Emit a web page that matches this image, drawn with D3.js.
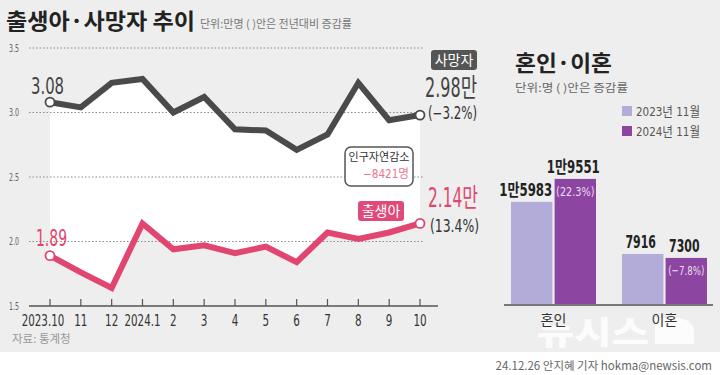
<!DOCTYPE html>
<html>
<head>
<meta charset="utf-8">
<script src="https://cdn.jsdelivr.net/npm/d3@7"></script>
<style>
  body { margin: 0; background: #fff; }
  text { font-family: 'Noto Sans CJK KR', sans-serif; }
  .num { font-family: 'Liberation Sans Narrow', 'DejaVu Sans Condensed', 'Noto Sans CJK KR', sans-serif; }
</style>
</head>
<body>
<div id="chart"></div>
<script>
// line chart data (unit: 10,000 people)
const months = ["2023.10", "11", "12", "2024.1", "2", "3", "4", "5", "6", "7", "8", "9", "10"];
const deaths = [3.08, 3.04, 3.23, 3.26, 3.00, 3.12, 2.87, 2.86, 2.71, 2.83, 3.23, 2.94, 2.98];
const births = [1.89, 1.76, 1.64, 2.14, 1.94, 1.97, 1.91, 1.96, 1.84, 2.07, 2.02, 2.07, 2.14];
const yTicks = [1.5, 2.0, 2.5, 3.0, 3.5];

// bar chart data (unit: people)
const categories = ["혼인", "이혼"];
const years = ["2023년 11월", "2024년 11월"];
const values2023 = [15983, 7916];
const values2024 = [19551, 7300];
const changes = ["(22.3%)", "(−7.8%)"];

const width = 720;
const height = 375;

// squeeze number labels to a narrow look (no condensed font installed)
function narrow(sel, digitW, dotW, otherW) {
  sel.each(function () {
    const s = d3.select(this).text();
    let w = 0;
    for (const ch of s) {
      if (/[0-9]/.test(ch)) w += digitW;
      else if (ch === "." || ch === ",") w += dotW;
      else if (/[가-힣]/.test(ch)) w += otherW;
      else w += dotW * 1.6;
    }
    d3.select(this).attr("textLength", w).attr("lengthAdjust", "spacingAndGlyphs");
  });
}

const svg = d3.select("#chart")
  .append("svg")
  .attr("width", width)
  .attr("height", height);

// background
svg.append("rect").attr("width", width).attr("height", 352).attr("fill", "#eeeeee");
svg.append("rect").attr("y", 352).attr("width", width).attr("height", 23).attr("fill", "#ffffff");

// titles
svg.append("text").attr("x", 6).attr("y", 29)
  .attr("font-size", 22).attr("font-weight", 700).attr("fill", "#222")
  .attr("textLength", 189).attr("lengthAdjust", "spacingAndGlyphs")
  .text("출생아·사망자 추이");
svg.append("text").attr("x", 200).attr("y", 28)
  .attr("font-size", 11).attr("fill", "#777")
  .text("단위:만명 ( )안은 전년대비 증감률");

/////////////////
// LINE CHART  //
/////////////////
const x = d3.scalePoint().domain(months).range([50, 420]);
const y = d3.scaleLinear().domain([1.5, 3.5]).range([306, 48]);

// white gap between deaths and births
const gap = d3.area()
  .x((d, i) => x(months[i]))
  .y0((d, i) => y(births[i]))
  .y1(d => y(d));
svg.append("path").datum(deaths)
  .attr("d", gap)
  .attr("fill", "#ffffff");

// grid
const grid = svg.append("g");
grid.selectAll("line")
  .data(yTicks.filter(t => t > 1.5))
  .join("line")
  .attr("x1", 29).attr("x2", 423)
  .attr("y1", d => y(d)).attr("y2", d => y(d))
  .attr("stroke", "#8a8a8a").attr("stroke-width", 1)
  .attr("stroke-dasharray", "1.5,2");
grid.selectAll("text")
  .data(yTicks)
  .join("text")
  .attr("class", "num")
  .attr("x", 19).attr("y", d => y(d))
  .attr("dy", "0.35em")
  .attr("text-anchor", "end")
  .attr("font-size", 10).attr("fill", "#666")
  .text(d => d.toFixed(1))
  .call(narrow, 4, 2, 0);

// x axis
const xAxis = svg.append("g").attr("transform", "translate(0,306)");
xAxis.append("line").attr("x1", 29).attr("x2", 438)
  .attr("stroke", "#555").attr("stroke-width", 1.5);
xAxis.selectAll(".tick")
  .data(months)
  .join("line")
  .attr("class", "tick")
  .attr("x1", d => x(d)).attr("x2", d => x(d))
  .attr("y1", 0).attr("y2", -7)
  .attr("stroke", "#555").attr("stroke-width", 1.2);
xAxis.selectAll(".lbl")
  .data(months)
  .join("text")
  .attr("class", "num lbl")
  .attr("x", (d, i) => x(d) - (i === 0 ? 7 : 0)).attr("y", 20)
  .attr("text-anchor", "middle")
  .attr("font-size", 15).attr("fill", "#333")
  .text(d => d)
  .call(narrow, 6.6, 3, 0);

const line = d3.line().x((d, i) => x(months[i])).y(d => y(d));

svg.append("path").datum(deaths)
  .attr("d", line)
  .attr("fill", "none").attr("stroke", "#4a4a4a")
  .attr("stroke-width", 6).attr("stroke-linejoin", "miter");
svg.append("path").datum(births)
  .attr("d", line)
  .attr("fill", "none").attr("stroke", "#e0466f")
  .attr("stroke-width", 6).attr("stroke-linejoin", "miter");

// end markers
const last = months.length - 1;
[[deaths, "#4a4a4a"], [births, "#e0466f"]].forEach(([s, c]) => {
  [0, last].forEach(i => {
    svg.append("circle")
      .attr("cx", x(months[i])).attr("cy", y(s[i])).attr("r", 4.5)
      .attr("fill", "#fff").attr("stroke", c).attr("stroke-width", 1.8);
  });
});

// start labels
svg.append("text").attr("class", "num")
  .attr("x", 31).attr("y", y(deaths[0]) - 8)
  .attr("font-size", 23).attr("fill", "#444")
  .attr("textLength", 33).attr("lengthAdjust", "spacingAndGlyphs")
  .text(deaths[0].toFixed(2));
svg.append("text").attr("class", "num")
  .attr("x", 36).attr("y", y(births[0]) - 10)
  .attr("font-size", 23).attr("fill", "#e0466f")
  .attr("textLength", 31).attr("lengthAdjust", "spacingAndGlyphs")
  .text(births[0].toFixed(2));

// end labels
svg.append("rect").attr("x", 431).attr("y", 50).attr("width", 46).attr("height", 20)
  .attr("rx", 3).attr("fill", "#555");
svg.append("text").attr("x", 454).attr("y", 65)
  .attr("text-anchor", "middle").attr("font-size", 14).attr("fill", "#fff")
  .text("사망자");
svg.append("text").attr("class", "num")
  .attr("x", 425).attr("y", 97)
  .attr("font-size", 26).attr("fill", "#444")
  .attr("textLength", 52).attr("lengthAdjust", "spacingAndGlyphs")
  .text(deaths[last].toFixed(2) + "만");
svg.append("text").attr("class", "num")
  .attr("x", 428).attr("y", 119)
  .attr("font-size", 17).attr("fill", "#333")
  .attr("textLength", 49).attr("lengthAdjust", "spacingAndGlyphs")
  .text("(−3.2%)");

svg.append("rect").attr("x", 358).attr("y", 201).attr("width", 46).attr("height", 20)
  .attr("rx", 3).attr("fill", "#e04a78");
svg.append("text").attr("x", 381).attr("y", 216)
  .attr("text-anchor", "middle").attr("font-size", 14).attr("fill", "#fff")
  .text("출생아");
svg.append("text").attr("class", "num")
  .attr("x", 428).attr("y", 207)
  .attr("font-size", 26).attr("fill", "#e0466f")
  .attr("textLength", 50).attr("lengthAdjust", "spacingAndGlyphs")
  .text(births[last].toFixed(2) + "만");
svg.append("text").attr("class", "num")
  .attr("x", 430).attr("y", 232)
  .attr("font-size", 17).attr("fill", "#333")
  .attr("textLength", 49).attr("lengthAdjust", "spacingAndGlyphs")
  .text("(13.4%)");

// natural decrease box
svg.append("rect").attr("x", 345).attr("y", 147).attr("width", 68).attr("height", 39)
  .attr("rx", 6).attr("fill", "#fff").attr("stroke", "#555").attr("stroke-width", 1.5);
svg.append("text").attr("x", 379).attr("y", 161)
  .attr("text-anchor", "middle").attr("font-size", 11).attr("fill", "#333")
  .attr("textLength", 61).attr("lengthAdjust", "spacingAndGlyphs")
  .text("인구자연감소");
svg.append("text").attr("class", "num").attr("x", 409).attr("y", 178)
  .attr("text-anchor", "end").attr("font-size", 12).attr("fill", "#ec7590")
  .attr("textLength", 46).attr("lengthAdjust", "spacingAndGlyphs")
  .text("−8421명");

svg.append("text").attr("x", 12).attr("y", 343)
  .attr("font-size", 11.5).attr("fill", "#999")
  .text("자료: 통계청");

/////////////////
// BAR CHART   //
/////////////////
svg.append("text").attr("x", 515).attr("y", 71)
  .attr("font-size", 22).attr("font-weight", 700).attr("fill", "#222")
  .attr("textLength", 97).attr("lengthAdjust", "spacingAndGlyphs")
  .text("혼인·이혼");
svg.append("text").attr("x", 515).attr("y", 92)
  .attr("font-size", 11).attr("fill", "#666")
  .attr("textLength", 113).attr("lengthAdjust", "spacingAndGlyphs")
  .text("단위:명 ( )안은  증감률");

const colors = ["#b3acd8", "#8c45a0"];

// legend
const legend = svg.append("g").selectAll("g")
  .data(years)
  .join("g")
  .attr("transform", (d, i) => `translate(622,${106 + i * 20})`);
legend.append("rect").attr("width", 10).attr("height", 10).attr("fill", (d, i) => colors[i]);
legend.append("text").attr("class", "num")
  .attr("x", 14).attr("y", 9.5)
  .attr("font-size", 13).attr("fill", "#555")
  .attr("textLength", 64).attr("lengthAdjust", "spacingAndGlyphs")
  .text(d => d);

const xb = d3.scaleBand().domain(categories).range([511, 707]).paddingInner(0.234);
const xs = d3.scaleBand().domain(years).range([0, xb.bandwidth()]).paddingInner(0.05);
const yb = d3.scaleLinear().domain([0, 20000]).range([305, 176]);

const rows = categories.map((c, i) => ({ cat: c, vals: [values2023[i], values2024[i]], change: changes[i] }));

const fmt = v => v >= 10000 ? `${Math.floor(v / 10000)}만${v % 10000}` : `${v}`;

const groups = svg.append("g").selectAll("g")
  .data(rows)
  .join("g")
  .attr("transform", d => `translate(${xb(d.cat)},0)`);

groups.selectAll("rect")
  .data(d => d.vals.map((v, j) => ({ v, yr: years[j], j })))
  .join("rect")
  .attr("x", d => xs(d.yr))
  .attr("y", d => yb(d.v))
  .attr("width", xs.bandwidth())
  .attr("height", d => yb(0) - yb(d.v))
  .attr("fill", d => colors[d.j]);

groups.selectAll(".val")
  .data(d => d.vals.map((v, j) => ({ v, yr: years[j], j })))
  .join("text")
  .attr("class", "num val")
  .attr("x", d => xs(d.yr) + xs.bandwidth() / 2 - (d.v >= 10000 && d.j === 0 ? 6 : 2))
  .attr("y", d => yb(d.v) - 6)
  .attr("text-anchor", "middle")
  .attr("font-size", 17).attr("font-weight", 700).attr("fill", "#222")
  .text(d => fmt(d.v))
  .call(narrow, 7.6, 3, 15);

groups.append("text")
  .attr("class", "num")
  .attr("x", xs(years[1]) + xs.bandwidth() / 2)
  .attr("y", d => yb(d.vals[1]) + 17)
  .attr("text-anchor", "middle")
  .attr("font-size", 13).attr("fill", "#eadcf2")
  .text(d => d.change)
  .call(narrow, 7, 3, 0);

// baseline
svg.append("line").attr("x1", 504).attr("x2", 713)
  .attr("y1", yb(0)).attr("y2", yb(0))
  .attr("stroke", "#777").attr("stroke-width", 2);

// watermark
const wm = svg.append("g").attr("fill", "#ffffff").attr("opacity", 0.85);
wm.append("text").attr("x", 537).attr("y", 344)
  .attr("font-size", 32).attr("font-weight", 900)
  .attr("textLength", 112).attr("lengthAdjust", "spacingAndGlyphs")
  .text("뉴시스");
wm.append("path").attr("d", "M655,318 h22 a17,13 0 0 1 17,13 v13 h-39 z");

// category labels
svg.append("g").selectAll("text")
  .data(categories)
  .join("text")
  .attr("x", d => xb(d) + xb.bandwidth() / 2)
  .attr("y", 325)
  .attr("text-anchor", "middle")
  .attr("font-size", 14).attr("fill", "#333")
  .text(d => d);

// credit
svg.append("text").attr("x", 712).attr("y", 370)
  .attr("text-anchor", "end").attr("font-size", 11.5).attr("fill", "#666")
  .text("24.12.26 안지혜 기자 hokma@newsis.com");
</script>
</body>
</html>
